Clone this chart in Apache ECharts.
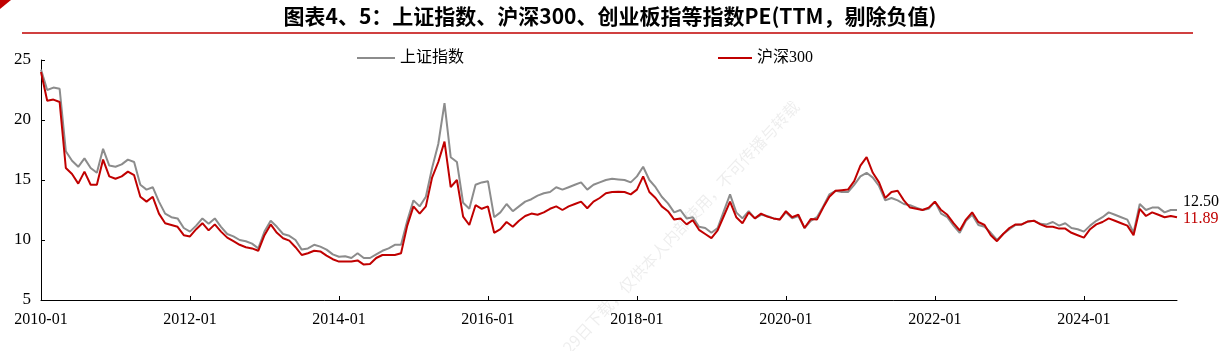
<!DOCTYPE html>
<html>
<head>
<meta charset="utf-8">
<title>指数PE</title>
<script src="https://cdn.jsdelivr.net/npm/echarts@6/dist/echarts.min.js"></script>
<style>
    html, body { margin: 0; padding: 0; background: #fff; }
    #pe_chart { width: 1220px; height: 351px; }
</style>
</head>
<body>
<div id="pe_chart"></div>
<script>
// 月度数据 2010-01 ~ 2025-04
var months = [];
for (var y = 2010; y <= 2025; y++) {
    for (var m = 1; m <= 12; m++) {
        if (y === 2025 && m > 4) break;
        months.push(y + '-' + (m < 10 ? '0' + m : m));
    }
}

// 上证指数 PE(TTM)
var shPE = [
    24.2, 22.5, 22.7, 22.6, 17.4, 16.6, 16.1, 16.8, 16.0, 15.6, 17.6, 16.2,
    16.1, 16.3, 16.7, 16.5, 14.6, 14.2, 14.4, 13.2, 12.2, 11.9, 11.8, 11.0,
    10.7, 11.2, 11.8, 11.35, 11.8, 11.1, 10.5, 10.3, 10.0, 9.9, 9.7, 9.3,
    10.7, 11.6, 11.1, 10.5, 10.35, 10.0, 9.2, 9.3, 9.6, 9.45, 9.2, 8.8,
    8.6, 8.65, 8.5, 8.9, 8.5, 8.5, 8.8, 9.1, 9.3, 9.6, 9.6, 11.6,
    13.3, 12.8, 13.6, 16.0, 18.0, 21.4, 16.9, 16.5, 13.1, 12.6, 14.6, 14.8,
    14.9, 11.9, 12.3, 13.0, 12.4, 12.8, 13.2, 13.4, 13.7, 13.9, 14.0, 14.4,
    14.2, 14.4, 14.6, 14.8, 14.2, 14.6, 14.8, 15.0, 15.1, 15.05, 15.0, 14.8,
    15.3, 16.1, 15.0, 14.4, 13.6, 13.05, 12.3, 12.5, 11.8, 11.9, 11.1, 11.0,
    10.6, 11.0, 12.4, 13.8, 12.3, 11.8, 12.4, 11.8, 12.1, 12.0, 11.8, 11.7,
    12.3, 11.8, 12.0, 11.0, 11.6, 11.9, 12.8, 13.8, 14.1, 14.0, 14.0, 14.6,
    15.3, 15.6, 15.2, 14.5, 13.3, 13.5, 13.3, 13.0, 12.9, 12.7, 12.5, 12.6,
    13.2, 12.2, 11.9, 11.2, 10.6, 11.6, 12.1, 11.25, 11.1, 10.6, 10.0, 10.5,
    10.9, 11.25, 11.3, 11.55, 11.6, 11.35, 11.3, 11.5, 11.2, 11.4, 11.0, 10.9,
    10.7, 11.2, 11.6, 11.9, 12.3, 12.1, 11.9, 11.7, 10.6, 13.0, 12.5, 12.7,
    12.7, 12.3, 12.5, 12.50
];

// 沪深300 PE(TTM)
var hs300PE = [
    24.0, 21.6, 21.7, 21.5, 16.0, 15.5, 14.7, 15.7, 14.6, 14.6, 16.7, 15.3,
    15.1, 15.3, 15.7, 15.4, 13.6, 13.2, 13.6, 12.2, 11.4, 11.25, 11.1, 10.4,
    10.3, 10.9, 11.4, 10.8, 11.3, 10.7, 10.2, 9.9, 9.6, 9.4, 9.3, 9.1,
    10.4, 11.3, 10.6, 10.15, 9.95, 9.4, 8.75, 8.9, 9.1, 9.05, 8.7, 8.4,
    8.2, 8.2, 8.2, 8.3, 7.95, 8.0, 8.5, 8.75, 8.75, 8.75, 8.9, 11.2,
    12.8, 12.2, 12.8, 15.2, 16.5, 18.2, 14.4, 15.0, 11.95, 11.25, 12.9, 12.6,
    12.8, 10.6, 10.9, 11.5, 11.1, 11.6, 12.0, 12.2, 12.1, 12.3, 12.6, 12.8,
    12.5, 12.8, 13.0, 13.2, 12.65, 13.2, 13.5, 13.9, 14.0, 14.03, 14.0, 13.8,
    14.2, 15.3, 14.0, 13.5, 12.8, 12.4, 11.7, 11.8, 11.3, 11.65, 10.85, 10.5,
    10.15, 10.8, 12.0, 13.2, 11.9, 11.4, 12.3, 11.8, 12.2, 11.95, 11.8, 11.7,
    12.4, 11.9, 12.1, 11.0, 11.75, 11.7, 12.7, 13.6, 14.1, 14.15, 14.2, 14.9,
    16.2, 16.9, 15.6, 14.8, 13.5, 14.0, 14.1, 13.3, 12.7, 12.6, 12.5, 12.7,
    13.2, 12.5, 12.1, 11.4, 10.8, 11.7, 12.3, 11.5, 11.25, 10.4, 9.9, 10.5,
    11.0, 11.3, 11.3, 11.55, 11.6, 11.3, 11.1, 11.1, 10.95, 10.95, 10.6, 10.4,
    10.2, 10.9, 11.3, 11.5, 11.8, 11.6, 11.4, 11.2, 10.4, 12.6, 12.0, 12.3,
    12.1, 11.9, 12.0, 11.89
];

var yTicks = [5, 10, 15, 20, 25];
var titleText = '图表4、5：上证指数、沪深300、创业板指等指数PE(TTM，剔除负值)';

var serif = '"Liberation Serif", "Times New Roman", "Noto Sans CJK SC", serif';
var cjk = '"Noto Sans CJK SC", "Liberation Serif", sans-serif';

var chart = echarts.init(document.getElementById('pe_chart'));
var option = {
    animation: false,
    backgroundColor: '#fff',
    title: {
        text: titleText,
        left: 'center',
        top: 1,
        textStyle: { fontFamily: cjk, fontSize: 21, fontWeight: 'bold', color: '#000' }
    },
    graphic: [
        { type: 'polygon', shape: { points: [[0, 0], [11, 0], [0, 9]] }, style: { fill: '#C00000' } },
        { type: 'line', shape: { x1: 22, y1: 33, x2: 1193, y2: 33 }, style: { stroke: '#C00000', lineWidth: 1.5 } },
        {
            type: 'text', x: 560, y: 345, rotation: Math.PI * 47 / 180,
            style: { text: '29日下载，仅供本人内部使用，不可传播与转载', fill: 'rgba(0,0,0,0.07)', font: '16px "Noto Sans CJK SC"' }
        }
    ],
    legend: [
        {
            data: ['上证指数'], left: 357, top: 50, padding: 0, icon: 'rect', itemWidth: 38, itemHeight: 2,
            textStyle: { fontFamily: serif, fontSize: 16, color: '#000' }
        },
        {
            data: ['沪深300'], left: 718, top: 50, padding: 0, icon: 'rect', itemWidth: 34, itemHeight: 2,
            textStyle: { fontFamily: serif, fontSize: 16, color: '#000' }
        }
    ],
    grid: { left: 41, right: 43, top: 60, bottom: 51, containLabel: false },
    xAxis: {
        type: 'category',
        data: months,
        boundaryGap: false,
        axisLine: { lineStyle: { color: '#000', width: 1 } },
        axisTick: { inside: true, length: 4, interval: 23, lineStyle: { color: '#000' } },
        axisLabel: { interval: 23, color: '#000', fontFamily: serif, fontSize: 16, margin: 12 },
        splitLine: { show: false }
    },
    yAxis: {
        type: 'value',
        min: yTicks[0],
        max: yTicks[yTicks.length - 1],
        interval: 5,
        axisLine: { show: true, lineStyle: { color: '#000', width: 1 } },
        axisTick: { show: true, inside: true, length: 4, lineStyle: { color: '#000' } },
        axisLabel: { color: '#000', fontFamily: serif, fontSize: 17, margin: 10 },
        splitLine: { show: false }
    },
    series: [
        {
            name: '上证指数',
            type: 'line',
            data: shPE,
            symbol: 'none',
            lineStyle: { color: '#8C8C8C', width: 2 },
            itemStyle: { color: '#8C8C8C' },
            endLabel: {
                show: true, distance: 6, offset: [0, -8],
                formatter: function (p) { return p.value.toFixed(2); },
                color: '#000', fontFamily: serif, fontSize: 16
            }
        },
        {
            name: '沪深300',
            type: 'line',
            data: hs300PE,
            symbol: 'none',
            lineStyle: { color: '#C00000', width: 2 },
            itemStyle: { color: '#C00000' },
            endLabel: {
                show: true, distance: 6, offset: [0, 1],
                formatter: function (p) { return p.value.toFixed(2); },
                color: '#C00000', fontFamily: serif, fontSize: 16
            }
        }
    ]
};
chart.setOption(option);
window.addEventListener('resize', function () {
    chart.resize();
});
</script>
</body>
</html>
